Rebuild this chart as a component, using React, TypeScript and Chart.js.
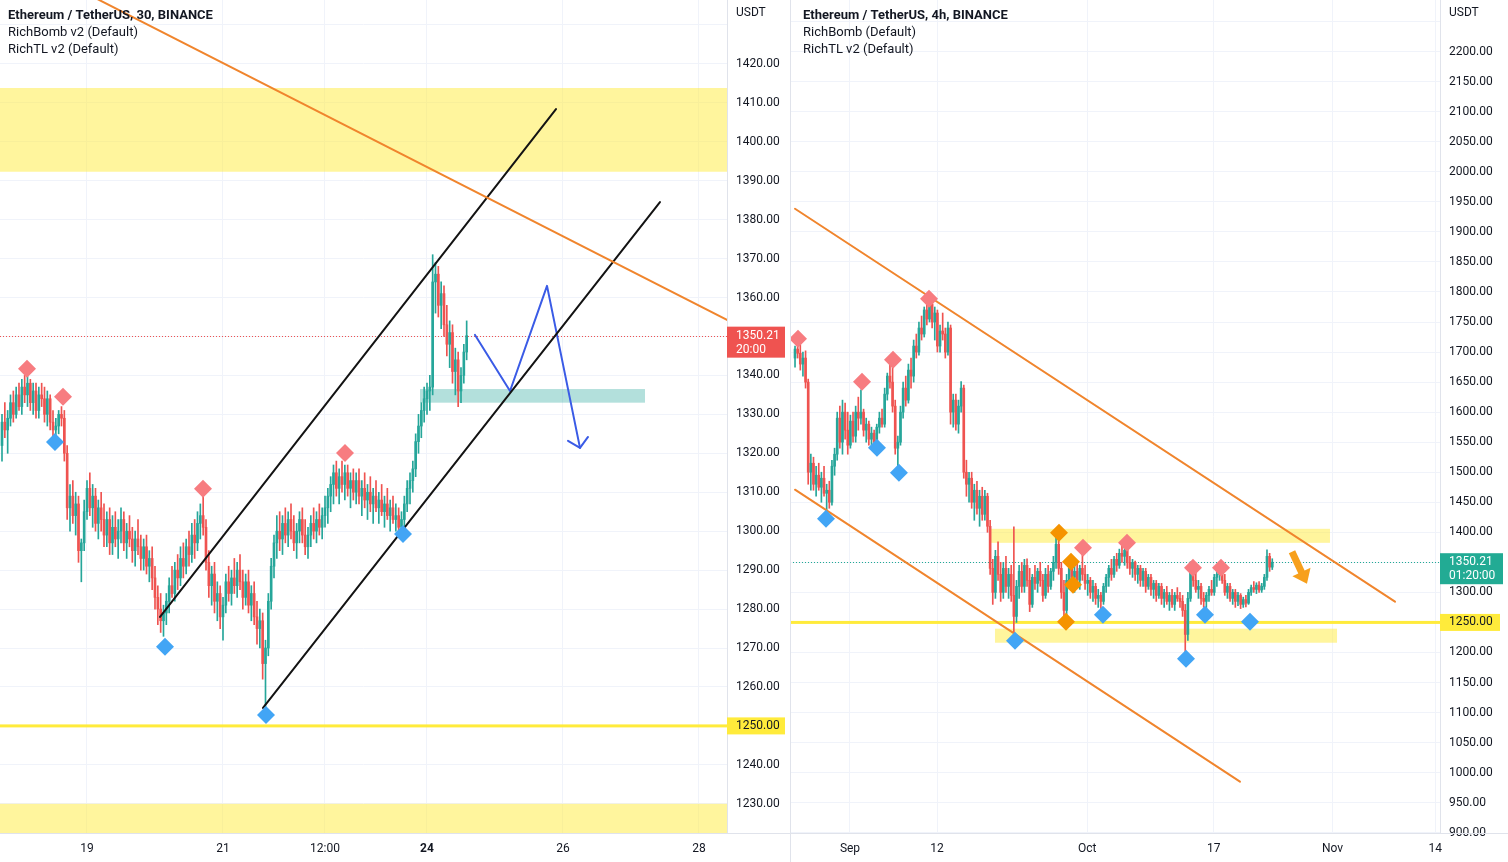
import React, { useEffect, useRef } from 'react';
import { Chart, registerables } from 'chart.js';
Chart.register(...registerables);

const FONT = 'Roboto, "Noto Sans", Arial, sans-serif';
const TEXT = '#131722';
const UP = '#26a69a';
const DOWN = '#ef5350';
const GRID = '#f0f3fa';
const BORDER = '#e0e3eb';

// ================= LEFT PANEL : ETH/USDT 30 (x = day of October) =================
const L_T0 = 17.75;
const L_DT = 1 / 24;
const L_OHLC: number[][] = [
  [1322,1330,1318,1328],[1328,1333,1324,1326],[1326,1331,1320,1329],[1329,1335,1327,1333],[1333,1336,1328,1330],
  [1330,1337,1329,1335],[1335,1338,1331,1332],[1332,1339,1330,1337],[1337,1340,1333,1335],[1335,1340,1332,1338],
  [1338,1339,1331,1333],[1333,1338,1330,1336],[1336,1338,1329,1331],[1331,1337,1329,1335],[1335,1338,1332,1334],
  [1334,1337,1328,1330],[1330,1336,1327,1334],[1334,1335,1326,1328],[1328,1331,1324,1326],[1326,1329,1324,1327],
  [1327,1331,1325,1330],[1330,1332,1327,1329],[1329,1331,1318,1320],[1320,1322,1303,1306],[1306,1312,1300,1309],
  [1309,1313,1302,1304],[1304,1310,1299,1307],[1307,1309,1292,1295],[1295,1298,1287,1297],[1297,1308,1295,1305],
  [1305,1313,1303,1311],[1311,1315,1304,1306],[1306,1312,1301,1309],[1309,1311,1300,1302],[1302,1308,1298,1306],
  [1306,1310,1300,1303],[1303,1307,1296,1299],[1299,1305,1296,1303],[1303,1306,1294,1297],[1297,1304,1294,1301],
  [1301,1305,1296,1298],[1298,1303,1293,1300],[1300,1306,1297,1303],[1303,1305,1295,1297],[1297,1302,1293,1300],
  [1300,1304,1296,1298],[1298,1301,1292,1295],[1295,1300,1291,1298],[1298,1303,1294,1296],[1296,1299,1290,1293],
  [1293,1298,1290,1296],[1296,1299,1289,1291],[1291,1295,1287,1293],[1293,1296,1285,1288],[1288,1291,1280,1283],
  [1283,1286,1276,1280],[1280,1284,1274,1277],[1277,1281,1273,1279],[1279,1284,1276,1282],[1282,1288,1279,1286],
  [1286,1291,1283,1284],[1284,1292,1282,1290],[1290,1294,1285,1288],[1288,1296,1286,1293],[1293,1297,1288,1291],
  [1291,1298,1289,1296],[1296,1300,1291,1294],[1294,1302,1292,1299],[1299,1303,1293,1297],[1297,1305,1295,1302],
  [1302,1307,1298,1304],[1304,1309,1299,1301],[1301,1303,1290,1292],[1292,1295,1283,1286],[1286,1291,1281,1289],
  [1289,1292,1279,1282],[1282,1287,1277,1284],[1284,1286,1275,1278],[1278,1283,1272,1281],[1281,1289,1279,1287],
  [1287,1291,1282,1284],[1284,1290,1281,1288],[1288,1293,1284,1286],[1286,1292,1283,1290],[1290,1294,1285,1287],
  [1287,1290,1280,1283],[1283,1289,1281,1287],[1287,1290,1279,1281],[1281,1286,1277,1284],[1284,1287,1276,1278],
  [1278,1282,1271,1275],[1275,1280,1270,1277],[1277,1279,1262,1266],[1266,1272,1255,1270],[1270,1284,1268,1282],
  [1282,1293,1280,1291],[1291,1299,1288,1297],[1297,1304,1293,1300],[1300,1305,1295,1298],[1298,1304,1294,1302],
  [1302,1306,1297,1299],[1299,1305,1296,1303],[1303,1307,1298,1300],[1300,1304,1295,1297],[1297,1302,1293,1300],
  [1300,1305,1297,1303],[1303,1306,1297,1299],[1299,1303,1294,1296],[1296,1301,1293,1299],[1299,1304,1296,1302],
  [1302,1306,1298,1300],[1300,1305,1297,1303],[1303,1307,1299,1301],[1301,1306,1298,1304],[1304,1309,1301,1306],
  [1306,1311,1302,1309],[1309,1314,1305,1312],[1312,1317,1307,1315],[1315,1318,1309,1311],[1311,1316,1307,1314],
  [1314,1318,1310,1312],[1312,1317,1308,1315],[1315,1317,1309,1311],[1311,1315,1306,1313],[1313,1316,1308,1310],
  [1310,1315,1307,1313],[1313,1316,1307,1309],[1309,1313,1304,1311],[1311,1315,1306,1308],[1308,1312,1303,1310],
  [1310,1314,1305,1307],[1307,1311,1302,1309],[1309,1313,1305,1306],[1306,1310,1302,1308],[1308,1312,1304,1305],
  [1305,1309,1301,1307],[1307,1311,1303,1304],[1304,1308,1300,1306],[1306,1309,1302,1303],[1303,1307,1300,1304],
  [1304,1306,1299,1301],[1301,1305,1299,1303],[1303,1309,1301,1307],[1307,1313,1305,1311],[1311,1315,1307,1313],
  [1313,1318,1310,1316],[1316,1325,1314,1323],[1323,1330,1320,1327],[1327,1333,1324,1331],[1331,1337,1328,1334],
  [1334,1338,1330,1336],[1336,1340,1331,1337],[1337,1371,1335,1364],[1364,1369,1356,1366],[1366,1368,1355,1358],
  [1358,1364,1352,1361],[1361,1363,1350,1353],[1353,1358,1345,1348],[1348,1354,1342,1351],[1351,1353,1338,1341],
  [1341,1347,1335,1344],[1344,1346,1332,1336],[1336,1342,1333,1340],[1340,1348,1338,1346],[1346,1354,1344,1350.21],
];
const L_X_TICKS = [19, 21, 22.5, 24, 26, 28];
const L_X_LABELS = ['19', '21', '12:00', '24', '26', '28'];
const L_Y_TICKS = [1230,1240,1250,1260,1270,1280,1290,1300,1310,1320,1330,1340,1350,1360,1370,1380,1390,1400,1410,1420,1430];
const L_RED_MARKS = [[18.118,1341.7],[18.647,1334.5],[20.706,1310.9],[22.794,1320.1]];
const L_BLUE_MARKS = [[18.529,1322.9],[20.147,1270.3],[21.632,1252.8],[23.647,1299.3]];
const L_ORANGE_LINE = [[19.0,1438.0],[29.0,1349.0]];
const L_CHANNEL_UP = [[20.074,1278.0],[25.897,1408.4]];
const L_CHANNEL_DN = [[21.588,1254.6],[27.426,1384.5]];
const L_BLUE_PATH = [[24.706,1350.4],[25.221,1336.0],[25.765,1363.0],[26.25,1321.4]];
const L_BLUE_HEAD = [[26.074,1323.2],[26.25,1321.4],[26.368,1324.2]];
const L_ZONE_TOP = [17, 30, 1413.8, 1392.3];
const L_ZONE_BOTTOM = [17, 30, 1230, 1215];
const L_ZONE_TEAL = [23.897, 27.206, 1336.5, 1333.0];

// ================= RIGHT PANEL : ETH/USDT 4h (x = days since Sep 1) =================
const R_T0 = -6.95;
const R_DT = 1 / 3;
const R_OHLC: number[][] = [
  [1690,1710,1675,1705],[1705,1722,1690,1698],[1698,1712,1670,1680],[1680,1700,1660,1690],[1690,1702,1640,1650],
  [1650,1655,1480,1500],[1500,1530,1470,1515],[1515,1525,1470,1480],[1480,1510,1460,1495],[1495,1515,1470,1475],
  [1475,1500,1450,1490],[1490,1510,1460,1465],[1465,1480,1430,1470],[1470,1485,1440,1450],[1450,1520,1445,1510],
  [1510,1540,1495,1530],[1530,1600,1520,1590],[1590,1610,1540,1550],[1550,1620,1530,1600],[1600,1615,1555,1570],
  [1570,1600,1530,1545],[1545,1595,1540,1585],[1585,1600,1550,1560],[1560,1610,1550,1600],[1600,1625,1570,1590],
  [1590,1637,1580,1600],[1600,1605,1560,1570],[1570,1590,1550,1580],[1580,1585,1545,1555],[1555,1575,1545,1565],
  [1565,1570,1540,1550],[1550,1580,1545,1575],[1575,1600,1565,1590],[1590,1605,1575,1580],[1580,1640,1575,1630],
  [1630,1665,1620,1660],[1660,1680,1640,1650],[1650,1684,1600,1610],[1610,1620,1530,1540],[1540,1560,1503,1550],
  [1550,1610,1545,1600],[1600,1650,1590,1640],[1640,1660,1610,1620],[1620,1680,1615,1670],[1670,1690,1640,1660],
  [1660,1720,1650,1710],[1710,1730,1690,1700],[1700,1750,1695,1740],[1740,1760,1720,1730],[1730,1775,1725,1770],
  [1770,1785,1745,1755],[1755,1789,1750,1780],[1780,1788,1740,1750],[1750,1775,1720,1765],[1765,1770,1700,1710],
  [1710,1745,1700,1735],[1735,1765,1720,1730],[1730,1740,1690,1700],[1700,1750,1695,1740],[1740,1745,1580,1600],
  [1600,1630,1575,1620],[1620,1630,1570,1580],[1580,1620,1565,1610],[1610,1651,1600,1640],[1640,1645,1490,1500],
  [1500,1520,1460,1480],[1480,1500,1450,1490],[1490,1500,1440,1450],[1450,1480,1420,1470],[1470,1485,1430,1440],
  [1440,1470,1410,1460],[1460,1475,1420,1430],[1430,1470,1420,1460],[1460,1465,1400,1410],[1410,1420,1330,1340],
  [1340,1355,1280,1300],[1300,1370,1290,1360],[1360,1384,1320,1330],[1330,1350,1285,1300],[1300,1350,1290,1340],
  [1340,1360,1300,1310],[1310,1340,1290,1330],[1330,1345,1285,1295],[1295,1409,1229,1260],[1260,1320,1250,1310],
  [1310,1345,1290,1335],[1335,1350,1300,1310],[1310,1355,1300,1345],[1345,1356,1310,1320],[1320,1340,1268,1280],
  [1280,1330,1275,1325],[1325,1345,1305,1315],[1315,1340,1300,1335],[1335,1350,1310,1320],[1320,1330,1285,1295],
  [1295,1340,1290,1330],[1330,1345,1300,1310],[1310,1340,1305,1335],[1335,1360,1320,1350],[1350,1396,1340,1380],
  [1380,1392,1330,1340],[1340,1350,1290,1300],[1300,1320,1251,1270],[1270,1330,1260,1320],[1320,1350,1310,1340],
  [1340,1355,1315,1325],[1325,1345,1300,1335],[1335,1350,1310,1320],[1320,1345,1305,1340],[1340,1368,1320,1330],
  [1330,1345,1305,1315],[1315,1330,1295,1320],[1320,1325,1290,1300],[1300,1320,1285,1310],[1310,1315,1280,1290],
  [1290,1305,1275,1295],[1295,1300,1273,1285],[1285,1315,1280,1310],[1310,1330,1300,1325],[1325,1345,1310,1340],
  [1340,1355,1320,1330],[1330,1360,1325,1355],[1355,1365,1335,1345],[1345,1372,1340,1365],[1365,1379,1350,1360],
  [1360,1375,1345,1370],[1370,1378,1340,1350],[1350,1360,1330,1340],[1340,1355,1325,1350],[1350,1352,1320,1330],
  [1330,1345,1315,1340],[1340,1345,1310,1320],[1320,1340,1310,1335],[1335,1340,1300,1310],[1310,1330,1305,1325],
  [1325,1330,1295,1305],[1305,1320,1290,1315],[1315,1320,1285,1295],[1295,1315,1290,1310],[1310,1315,1280,1290],
  [1290,1305,1275,1300],[1300,1310,1280,1285],[1285,1300,1270,1295],[1295,1305,1275,1280],[1280,1300,1270,1295],
  [1295,1308,1285,1290],[1290,1300,1275,1285],[1285,1295,1260,1270],[1270,1280,1190,1230],[1230,1300,1220,1290],
  [1290,1351,1285,1340],[1340,1350,1310,1320],[1320,1335,1300,1305],[1305,1320,1290,1310],[1310,1315,1280,1290],
  [1290,1300,1275,1285],[1285,1300,1273,1295],[1295,1310,1285,1305],[1305,1320,1295,1300],[1300,1330,1295,1325],
  [1325,1340,1310,1330],[1330,1346,1320,1340],[1340,1346,1315,1320],[1320,1330,1295,1300],[1300,1315,1290,1310],
  [1310,1315,1285,1290],[1290,1305,1280,1300],[1300,1305,1275,1285],[1285,1300,1278,1295],[1295,1298,1273,1280],
  [1280,1292,1275,1288],[1288,1295,1276,1282],[1282,1305,1280,1300],[1300,1312,1295,1308],[1308,1318,1300,1305],
  [1305,1316,1298,1312],[1312,1318,1300,1304],[1304,1315,1300,1310],[1310,1330,1305,1325],[1325,1371,1320,1360],
  [1360,1365,1335,1342],[1342,1356,1338,1350.21],
];
const R_X_TICKS = [0, 11, 30, 46, 61, 74];
const R_X_LABELS = ['Sep', '12', 'Oct', '17', 'Nov', '14'];
const R_Y_TICKS = [900,950,1000,1050,1100,1150,1200,1250,1300,1350,1400,1450,1500,1550,1600,1650,1700,1750,1800,1850,1900,1950,2000,2050,2100,2150,2200,2250];
const R_RED_MARKS = [[-6.57,1722.3],[1.52,1650.7],[5.44,1687.3],[9.99,1788.8],[29.46,1374.4],[35.02,1382.7],[43.36,1341.1],[46.90,1341.1]];
const R_BLUE_MARKS = [[-3.03,1422.6],[3.41,1540.8],[6.19,1499.2],[20.86,1219.6],[31.98,1262.8],[42.48,1189.6],[44.88,1262.8],[50.57,1251.2]];
const R_ORANGE_MARKS = [[26.42,1399.3],[27.94,1351.1],[28.19,1312.8],[27.31,1251.2]];
const R_CHANNEL_TOP = [[-6.953,1938.6],[68.9,1284.5]];
const R_CHANNEL_BOTTOM = [[-6.953,1470.9],[49.3,985.0]];
const R_ZONE_TOP = [17.83, 60.68, 1405.8, 1382.5];
const R_ZONE_BOTTOM = [18.33, 61.57, 1239.6, 1216.2];
const R_ARROW = [55.88, 1367.7, 57.77, 1314.4];

type Panel = {
  ohlc: number[][]; t0: number; dt: number;
  xMin: number; xMax: number; yMin: number; yMax: number;
  xTicks: number[]; xLabels: string[]; boldTick: number | null;
  yTicks: number[]; hideYLabel: number; axisWidth: number;
  lines: { pts: number[][]; color: string; width: number }[];
  markers: { pts: number[][]; color: string }[];
  rects: { r: number[]; color: string }[];
  support: number; supTagW: number;
  last: number; lastColor: string; lastSub: string; lastTagW: number;
  legend: string[]; legendX: number;
  arrow: number[] | null; leftBorder: boolean;
};

const ZONE_YELLOW = 'rgba(255,235,59,0.5)';

const LEFT: Panel = {
  ohlc: L_OHLC, t0: L_T0, dt: L_DT,
  xMin: 17.7206, xMax: 28.4118, yMin: 1222.5, yMax: 1436.4,
  xTicks: L_X_TICKS, xLabels: L_X_LABELS, boldTick: 24,
  yTicks: L_Y_TICKS, hideYLabel: 1430, axisWidth: 63,
  lines: [
    { pts: L_ORANGE_LINE, color: '#f0852d', width: 2 },
    { pts: L_CHANNEL_UP, color: '#131313', width: 2 },
    { pts: L_CHANNEL_DN, color: '#131313', width: 2 },
    { pts: L_BLUE_PATH, color: '#3a5be6', width: 2 },
    { pts: L_BLUE_HEAD, color: '#3a5be6', width: 2 },
  ],
  markers: [
    { pts: L_RED_MARKS, color: '#f77c80' },
    { pts: L_BLUE_MARKS, color: '#42a5f5' },
  ],
  rects: [
    { r: L_ZONE_TOP, color: ZONE_YELLOW },
    { r: L_ZONE_BOTTOM, color: ZONE_YELLOW },
    { r: L_ZONE_TEAL, color: 'rgba(38,166,154,0.35)' },
  ],
  support: 1250, supTagW: 58,
  last: 1350.21, lastColor: '#ef5350', lastSub: '20:00', lastTagW: 58,
  legend: ['Ethereum / TetherUS, 30, BINANCE', 'RichBomb v2 (Default)', 'RichTL v2 (Default)'], legendX: 8,
  arrow: null, leftBorder: false,
};

const RIGHT: Panel = {
  ohlc: R_OHLC, t0: R_T0, dt: R_DT,
  xMin: -7.585, xMax: 74.59, yMin: 899.5, yMax: 2286.0,
  xTicks: R_X_TICKS, xLabels: R_X_LABELS, boldTick: null,
  yTicks: R_Y_TICKS, hideYLabel: 2250, axisWidth: 68,
  lines: [
    { pts: R_CHANNEL_TOP, color: '#f0852d', width: 2 },
    { pts: R_CHANNEL_BOTTOM, color: '#f0852d', width: 2 },
  ],
  markers: [
    { pts: R_RED_MARKS, color: '#f77c80' },
    { pts: R_BLUE_MARKS, color: '#42a5f5' },
    { pts: R_ORANGE_MARKS, color: '#f59300' },
  ],
  rects: [
    { r: R_ZONE_TOP, color: ZONE_YELLOW },
    { r: R_ZONE_BOTTOM, color: ZONE_YELLOW },
  ],
  support: 1250, supTagW: 60,
  last: 1350.21, lastColor: '#22ab94', lastSub: '01:20:00', lastTagW: 63,
  legend: ['Ethereum / TetherUS, 4h, BINANCE', 'RichBomb (Default)', 'RichTL v2 (Default)'], legendX: 13,
  arrow: R_ARROW, leftBorder: true,
};

function makeOverlay(p: Panel) {
  return {
    id: 'overlay',
    beforeDatasetsDraw(chart: any) {
      const { ctx, chartArea: a } = chart;
      const xs = chart.scales.x, ys = chart.scales.y;
      ctx.save();
      ctx.beginPath();
      ctx.rect(a.left, a.top, a.right - a.left, a.bottom - a.top);
      ctx.clip();
      for (const z of p.rects) {
        const x0 = xs.getPixelForValue(z.r[0]), x1 = xs.getPixelForValue(z.r[1]);
        const y0 = ys.getPixelForValue(z.r[2]), y1 = ys.getPixelForValue(z.r[3]);
        ctx.fillStyle = z.color;
        ctx.fillRect(Math.min(x0, x1), Math.min(y0, y1), Math.abs(x1 - x0), Math.abs(y1 - y0));
      }
      const sy = ys.getPixelForValue(p.support);
      ctx.fillStyle = '#ffeb3b';
      ctx.fillRect(a.left, sy - 1.5, a.right - a.left, 3);
      const ly = Math.round(ys.getPixelForValue(p.last)) + 0.5;
      ctx.strokeStyle = p.lastColor;
      ctx.lineWidth = 1;
      ctx.setLineDash([1, 2]);
      ctx.beginPath();
      ctx.moveTo(a.left, ly);
      ctx.lineTo(a.right, ly);
      ctx.stroke();
      ctx.restore();
    },
    afterDatasetsDraw(chart: any) {
      if (!p.arrow) return;
      const { ctx } = chart;
      const xs = chart.scales.x, ys = chart.scales.y;
      const tx = xs.getPixelForValue(p.arrow[0]), ty = ys.getPixelForValue(p.arrow[1]);
      const hx = xs.getPixelForValue(p.arrow[2]), hy = ys.getPixelForValue(p.arrow[3]);
      const ang = Math.atan2(hy - ty, hx - tx);
      const len = Math.hypot(hx - tx, hy - ty);
      ctx.save();
      ctx.translate(tx, ty);
      ctx.rotate(ang);
      ctx.fillStyle = '#f7a01c';
      ctx.beginPath();
      ctx.moveTo(0, -3.5);
      ctx.lineTo(len - 13, -3.5);
      ctx.lineTo(len - 13, -10);
      ctx.lineTo(len, 0);
      ctx.lineTo(len - 13, 10);
      ctx.lineTo(len - 13, 3.5);
      ctx.lineTo(0, 3.5);
      ctx.closePath();
      ctx.fill();
      ctx.restore();
    },
    afterDraw(chart: any) {
      const { ctx, chartArea: a, width, height } = chart;
      const ys = chart.scales.y;
      ctx.save();
      ctx.fillStyle = BORDER;
      ctx.fillRect(0, a.bottom, width, 1);
      if (p.leftBorder) ctx.fillRect(0, 0, 1, height);
      ctx.textBaseline = 'middle';
      ctx.textAlign = 'left';
      ctx.fillStyle = TEXT;
      p.legend.forEach((t, i) => {
        ctx.font = `${i === 0 ? 'bold ' : ''}13px ${FONT}`;
        ctx.fillText(t, p.legendX, 16 + i * 17);
      });
      ctx.font = `12px ${FONT}`;
      ctx.fillStyle = '#fff';
      ctx.fillRect(a.right + 1, 4, p.axisWidth - 2, 18);
      ctx.fillStyle = TEXT;
      ctx.fillText('USDT', a.right + 9, 13);
      const ly = ys.getPixelForValue(p.last);
      ctx.fillStyle = p.lastColor;
      ctx.fillRect(a.right, ly - 9, p.lastTagW, 31);
      ctx.fillStyle = '#fff';
      ctx.fillText(p.last.toFixed(2), a.right + 9, ly);
      ctx.fillText(p.lastSub, a.right + 9, ly + 14);
      const sy = ys.getPixelForValue(p.support);
      ctx.fillStyle = '#ffeb3b';
      ctx.fillRect(a.right, sy - 8.5, p.supTagW, 17);
      ctx.fillStyle = TEXT;
      ctx.fillText(p.support.toFixed(2), a.right + 9, sy);
      ctx.restore();
    },
  };
}

function buildConfig(p: Panel): any {
  const wicks = p.ohlc.map((c, i) => ({ x: p.t0 + i * p.dt, y: [c[2], c[1]] }));
  const bodies = p.ohlc.map((c, i) => ({ x: p.t0 + i * p.dt, y: [c[0], c[3]] }));
  const colors = p.ohlc.map((c) => (c[3] >= c[0] ? UP : DOWN));
  const datasets: any[] = [
    { type: 'bar', data: wicks, backgroundColor: colors, barThickness: 1, grouped: false, order: 6, borderWidth: 0 },
    { type: 'bar', data: bodies, backgroundColor: colors, barThickness: 2, grouped: false, order: 5, borderWidth: 0, minBarLength: 1 },
    ...p.lines.map((l) => ({
      type: 'line', data: l.pts.map(([x, y]) => ({ x, y })), borderColor: l.color, borderWidth: l.width,
      pointRadius: 0, fill: false, tension: 0, order: 2, borderCapStyle: 'round', borderJoinStyle: 'round',
    })),
    ...p.markers.map((m) => ({
      type: 'scatter', data: m.pts.map(([x, y]) => ({ x, y })), pointStyle: 'rectRot', pointRadius: 9,
      backgroundColor: m.color, borderWidth: 0, order: 0,
    })),
  ];
  return {
    type: 'bar',
    data: { datasets },
    options: {
      responsive: false, animation: false, devicePixelRatio: 1, events: [],
      layout: { padding: 0, autoPadding: false },
      plugins: { legend: { display: false }, tooltip: { enabled: false } },
      scales: {
        x: {
          type: 'linear', min: p.xMin, max: p.xMax, offset: false,
          grid: { color: GRID, drawTicks: false, offset: false },
          border: { display: true, color: BORDER },
          ticks: {
            padding: 9, color: TEXT, maxRotation: 0, autoSkip: false,
            font: (ctx: any) => ({ family: FONT, size: 12, weight: ctx.tick && ctx.tick.value === p.boldTick ? 'bold' : 'normal' }),
            callback: (_v: any, i: number) => p.xLabels[i],
          },
          afterBuildTicks: (s: any) => { s.ticks = p.xTicks.map((v) => ({ value: v })); },
          afterFit: (s: any) => { s.height = 29; s.paddingLeft = 0; s.paddingRight = 0; },
        },
        y: {
          type: 'linear', position: 'right', min: p.yMin, max: p.yMax,
          grid: { color: GRID, drawTicks: false },
          border: { display: true, color: BORDER },
          ticks: {
            padding: 9, color: TEXT, autoSkip: false, font: { family: FONT, size: 12 },
            callback: (v: any) => (v === p.hideYLabel ? '' : Number(v).toFixed(2)),
          },
          afterBuildTicks: (s: any) => { s.ticks = p.yTicks.map((v) => ({ value: v })); },
          afterFit: (s: any) => { s.width = p.axisWidth; s.paddingTop = 0; s.paddingBottom = 0; },
        },
      },
    },
    plugins: [makeOverlay(p)],
  };
}

function PanelChart({ p, left, width }: { p: Panel; left: number; width: number }) {
  const ref = useRef<HTMLCanvasElement>(null);
  useEffect(() => {
    const chart = new Chart(ref.current as HTMLCanvasElement, buildConfig(p));
    return () => chart.destroy();
  }, []);
  return (
    <canvas
      ref={ref}
      width={width}
      height={862}
      style={{ position: 'absolute', left, top: 0, width, height: 862 }}
    />
  );
}

export default function App() {
  return (
    <div style={{ position: 'fixed', left: 0, top: 0, width: 1508, height: 862, background: '#fff', overflow: 'hidden' }}>
      <PanelChart p={LEFT} left={0} width={790} />
      <PanelChart p={RIGHT} left={790} width={718} />
    </div>
  );
}
